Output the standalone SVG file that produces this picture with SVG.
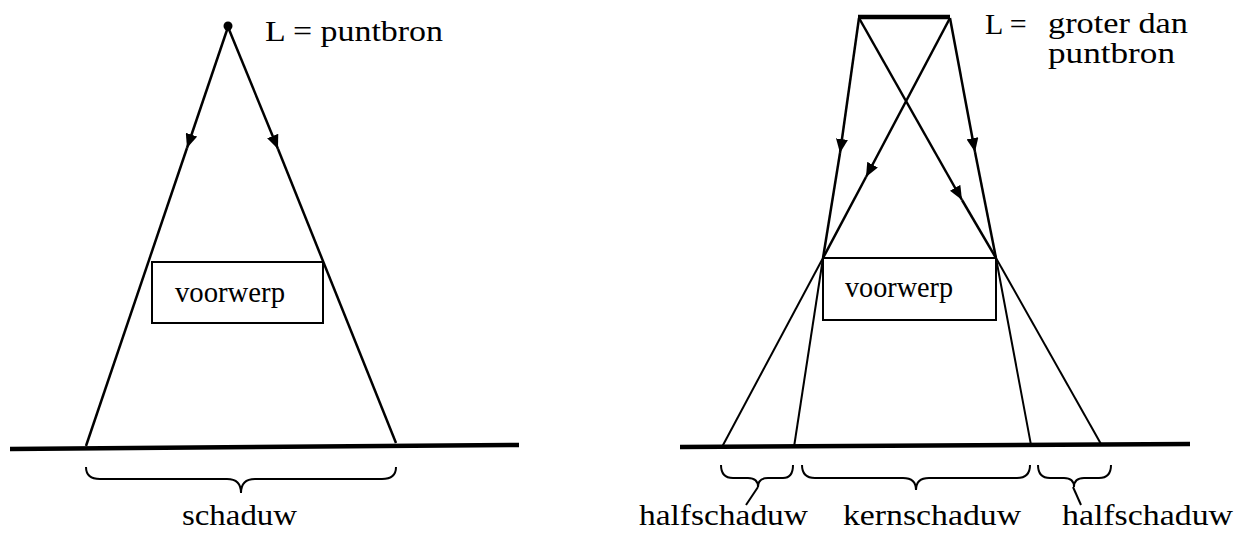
<svg xmlns="http://www.w3.org/2000/svg" width="1238" height="533" viewBox="0 0 1238 533">
<style>
text{font-family:'Liberation Serif','DejaVu Serif','Times New Roman',serif;font-size:30px;fill:#000}
.ray{stroke:#000;stroke-width:2.5;fill:none}
.ray2{stroke:#000;stroke-width:2;fill:none}
.ground{stroke:#000;stroke-width:4.5;fill:none}
.box{stroke:#000;stroke-width:2;fill:#fff}
.brace{stroke:#000;stroke-width:2;fill:none}
</style>
<defs>
<marker id="arr" markerWidth="14" markerHeight="12" refX="14" refY="6" orient="auto" markerUnits="userSpaceOnUse">
<path d="M0,0 L14,6 L0,12 Z" fill="#000"/>
</marker>
</defs>
<rect width="1238" height="533" fill="#fff"/>

<g id="connectors">
<path class="ray" d="M228,27 L187,148" marker-end="url(#arr)"/>
<path class="ray" d="M187,148 L86,446"/>
<path class="ray" d="M228,27 L278,149" marker-end="url(#arr)"/>
<path class="ray" d="M278,149 L396,443"/>
<path class="ray" d="M859,18 L840,153" marker-end="url(#arr)"/>
<path class="ray" d="M840,153 L823,258"/>
<path class="ray2" d="M823,258 L794,447"/>
<path class="ray" d="M859,18 L962,200" marker-end="url(#arr)"/>
<path class="ray" d="M962,200 L996,258"/>
<path class="ray2" d="M996,258 L1101,444"/>
<path class="ray" d="M950,18 L866,177" marker-end="url(#arr)"/>
<path class="ray" d="M866,177 L823,258"/>
<path class="ray2" d="M823,258 L722,447"/>
<path class="ray" d="M950,18 L975,152" marker-end="url(#arr)"/>
<path class="ray" d="M975,152 L996,258"/>
<path class="ray2" d="M996,258 L1031,445"/>
</g>

<g id="ground-left"><path class="ground" d="M10,449 L519,445"/></g>
<g id="ground-right"><path class="ground" d="M680,447 L1190,444"/></g>

<g id="source-left">
<circle cx="228" cy="26" r="4.5" fill="#000"/>
<text x="265" y="41" textLength="178" lengthAdjust="spacingAndGlyphs">L = puntbron</text>
</g>

<g id="source-right">
<path d="M858,17 L950,17" stroke="#000" stroke-width="4.5"/>
<text x="985" y="34" font-size="28">L =</text>
<text x="1048" y="33" font-size="26" textLength="140" lengthAdjust="spacingAndGlyphs">groter dan</text>
<text x="1048" y="63" font-size="26" textLength="127" lengthAdjust="spacingAndGlyphs">puntbron</text>
</g>

<g id="object-left">
<rect class="box" x="152" y="262" width="171" height="61"/>
<text x="175" y="302" textLength="110" lengthAdjust="spacingAndGlyphs">voorwerp</text>
</g>

<g id="object-right">
<rect class="box" x="823" y="258" width="173" height="62"/>
<text x="845" y="297" textLength="108" lengthAdjust="spacingAndGlyphs">voorwerp</text>
</g>

<g id="shadow-left">
<path class="brace" d="M86,467 Q86,479 100,479 L227,479 Q241,479 241,493 Q241,479 255,479 L382,479 Q396,479 396,467"/>
<text x="182" y="525" textLength="115" lengthAdjust="spacingAndGlyphs">schaduw</text>
</g>

<g id="halfshadow-left">
<path class="brace" d="M721,465 Q721,478 733,478 L748,478 Q758,478 758,487 Q758,478 768,478 L783,478 Q793,478 793,465"/>
<path class="brace" d="M758,487 L746,505"/>
<text x="639" y="525" textLength="169" lengthAdjust="spacingAndGlyphs">halfschaduw</text>
</g>

<g id="coreshadow">
<path class="brace" d="M802,465 Q802,478 815,478 L903,478 Q916,478 916,490 Q916,478 929,478 L1017,478 Q1030,478 1030,465"/>
<text x="843" y="525" textLength="178" lengthAdjust="spacingAndGlyphs">kernschaduw</text>
</g>

<g id="halfshadow-right">
<path class="brace" d="M1038,465 Q1038,478 1050,478 L1064,478 Q1074,478 1074,487 Q1074,478 1084,478 L1099,478 Q1111,478 1111,465"/>
<path class="brace" d="M1073,487 L1081,505"/>
<text x="1062" y="525" textLength="171" lengthAdjust="spacingAndGlyphs">halfschaduw</text>
</g>
</svg>
